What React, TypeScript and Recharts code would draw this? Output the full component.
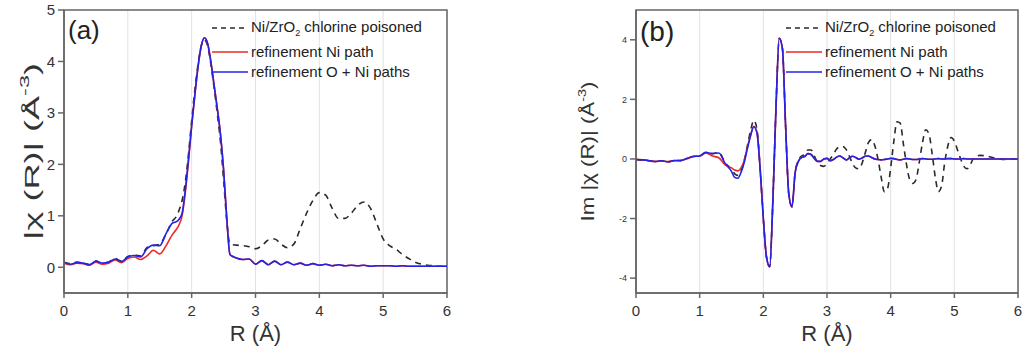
import React from 'react';
import {
  LineChart,
  Line,
  XAxis,
  YAxis,
  CartesianGrid,
  ReferenceArea,
  Legend,
  Label,
} from 'recharts';

const FONT = '"Liberation Sans", Arial, sans-serif';
const AXIS = '#666';
const TEXT = '#333';
const RED = '#ee2a24';
const BLUE = '#2323e6';
const DASH = '#2a2a2a';

// ---- panel (a): magnitude |chi(R)| ----
const rA = [
  0, 0.1, 0.2, 0.3, 0.4, 0.5, 0.6, 0.7, 0.8, 0.9, 1.0, 1.1, 1.2, 1.3, 1.4, 1.5, 1.6, 1.7,
  1.75, 1.8, 1.85, 1.9, 1.95, 2.0, 2.05, 2.1, 2.15, 2.2, 2.25, 2.3, 2.35, 2.4, 2.45, 2.5, 2.55, 2.6,
  2.7, 2.8, 2.9, 3.0, 3.1, 3.2, 3.3, 3.4, 3.5, 3.6, 3.7, 3.8, 3.9, 4.0, 4.1, 4.2, 4.3, 4.4, 4.5,
  4.6, 4.7, 4.8, 4.9, 5.0, 5.1, 5.2, 5.3, 5.4, 5.5, 5.6, 5.7, 5.8, 5.9, 6.0,
];
const poisonedA = [
  0.10, 0.07, 0.10, 0.08, 0.05, 0.12, 0.08, 0.10, 0.17, 0.12, 0.21, 0.24, 0.22, 0.38, 0.42, 0.45, 0.65, 0.90,
  0.97, 1.10, 1.30, 1.65, 2.20, 2.85, 3.45, 3.95, 4.30, 4.42, 4.30, 3.95, 3.50, 3.00, 2.45, 1.70, 0.90, 0.45,
  0.43, 0.42, 0.40, 0.36, 0.42, 0.53, 0.55, 0.45, 0.38, 0.45, 0.75, 1.05, 1.30, 1.45, 1.40, 1.15, 0.95, 0.95, 1.05,
  1.20, 1.27, 1.15, 0.85, 0.55, 0.42, 0.35, 0.25, 0.17, 0.10, 0.06, 0.04, 0.03, 0.02, 0.02,
];
const niPathA = [
  0.08, 0.05, 0.08, 0.07, 0.04, 0.10, 0.06, 0.08, 0.14, 0.09, 0.17, 0.20, 0.15, 0.22, 0.33, 0.26, 0.42, 0.64,
  0.72, 0.82, 1.00, 1.45, 2.05, 2.75, 3.35, 3.90, 4.30, 4.46, 4.35, 4.00, 3.55, 3.10, 2.60, 1.90, 0.95, 0.25,
  0.18, 0.15, 0.16, 0.06, 0.13, 0.05, 0.12, 0.05, 0.10, 0.05, 0.08, 0.04, 0.07, 0.04, 0.06, 0.03, 0.05, 0.03, 0.04,
  0.03, 0.04, 0.02, 0.03, 0.03, 0.03, 0.02, 0.03, 0.02, 0.02, 0.02, 0.02, 0.02, 0.02, 0.02,
];
const oNiPathsA = [
  0.10, 0.06, 0.09, 0.08, 0.05, 0.12, 0.08, 0.10, 0.16, 0.11, 0.20, 0.23, 0.20, 0.36, 0.43, 0.42, 0.66, 0.86,
  0.88, 0.93, 1.05, 1.50, 2.10, 2.75, 3.35, 3.90, 4.30, 4.46, 4.35, 4.00, 3.55, 3.10, 2.60, 1.90, 0.95, 0.25,
  0.18, 0.15, 0.16, 0.06, 0.13, 0.05, 0.12, 0.05, 0.10, 0.05, 0.08, 0.04, 0.07, 0.04, 0.06, 0.03, 0.05, 0.03, 0.04,
  0.03, 0.04, 0.02, 0.03, 0.03, 0.03, 0.02, 0.03, 0.02, 0.02, 0.02, 0.02, 0.02, 0.02, 0.02,
];

// ---- panel (b): imaginary part ----
const rB = [
  0, 0.1, 0.2, 0.3, 0.4, 0.5, 0.6, 0.7, 0.8, 0.9, 1.0, 1.1, 1.2, 1.3, 1.4,
  1.5, 1.55, 1.6, 1.65, 1.7, 1.75, 1.8, 1.85, 1.9, 1.95, 2.0, 2.05, 2.1, 2.15, 2.2, 2.25, 2.3, 2.35,
  2.4, 2.45, 2.5, 2.55, 2.6,
  2.65, 2.7, 2.75, 2.8, 2.85, 2.9, 2.95, 3.0,
  3.05, 3.1, 3.15, 3.2, 3.25, 3.3, 3.35, 3.4, 3.45, 3.5, 3.55, 3.6, 3.65, 3.7, 3.75, 3.8, 3.85, 3.9, 3.95, 4.0,
  4.05, 4.1, 4.15, 4.2, 4.25, 4.3, 4.35, 4.4, 4.45, 4.5, 4.55, 4.6, 4.65, 4.7, 4.75, 4.8, 4.85, 4.9, 4.95, 5.0,
  5.05, 5.1, 5.15, 5.2, 5.25, 5.3,
  5.4, 5.5, 5.6, 5.7, 5.8, 5.9, 6.0,
];
const poisonedB = [
  -0.02, -0.04, -0.06, -0.09, -0.06, -0.10, -0.05, -0.06, 0.02, 0.08, 0.10, 0.22, 0.18, 0.22, -0.12,
  -0.35, -0.50, -0.55, -0.40, -0.05, 0.45, 0.95, 1.30, 1.00, -0.30, -2.00, -3.30, -3.62, -1.40, 1.80, 4.05, 3.70, 1.10,
  -1.18, -1.60, -0.45, -0.05, 0.10,
  0.15, 0.30, 0.30, 0.10, -0.10, -0.22, -0.25, -0.15,
  0.00, 0.15, 0.33, 0.42, 0.42, 0.32, 0.10, -0.15, -0.30, -0.33, -0.15, 0.20, 0.55, 0.65, 0.45, 0.00, -0.60, -1.10, -1.00, -0.30,
  0.60, 1.25, 1.20, 0.50, -0.20, -0.70, -0.82, -0.68, -0.10, 0.55, 0.98, 0.85, 0.20, -0.60, -1.10, -0.90, -0.10, 0.45, 0.72, 0.60,
  0.30, 0.00, -0.25, -0.33, -0.20, 0.02,
  0.12, 0.10, 0.05, 0.00, -0.02, 0.00, 0.00,
];
const niPathB = [
  -0.01, -0.03, -0.06, -0.08, -0.07, -0.09, -0.06, -0.04, 0.00, 0.09, 0.10, 0.20, 0.10, 0.04, -0.20,
  -0.30, -0.37, -0.40, -0.30, -0.05, 0.40, 0.80, 1.10, 0.88, -0.34, -2.00, -3.30, -3.62, -1.40, 1.80, 4.05, 3.70, 1.10,
  -1.18, -1.62, -0.45, -0.08, 0.05,
  0.08, 0.18, 0.15, 0.02, -0.08, -0.08, 0.00, 0.02,
  -0.06, -0.02, 0.06, 0.10, 0.04, -0.03, 0.03, 0.09, 0.05, -0.01, 0.03, 0.09, 0.10, 0.05, 0.00, -0.02, -0.03, -0.02, 0.00, 0.02,
  0.01, -0.02, -0.03, -0.01, 0.01, 0.00, -0.02, -0.02, 0.00, 0.01, 0.00, -0.01, -0.01, 0.00, 0.01, 0.00, 0.00, 0.01, 0.01, 0.00,
  0.00, 0.00, 0.01, 0.00, 0.00, 0.00,
  0.00, 0.00, 0.00, 0.00, 0.00, 0.00, 0.00,
];
const oNiPathsB = [
  -0.02, -0.03, -0.05, -0.09, -0.06, -0.10, -0.05, -0.06, 0.02, 0.08, 0.10, 0.22, 0.18, 0.20, -0.15,
  -0.42, -0.62, -0.65, -0.45, -0.12, 0.35, 0.78, 1.08, 0.88, -0.34, -2.00, -3.30, -3.62, -1.40, 1.80, 4.05, 3.70, 1.10,
  -1.18, -1.60, -0.45, -0.08, 0.05,
  0.08, 0.18, 0.15, 0.02, -0.08, -0.08, 0.00, 0.02,
  -0.06, -0.02, 0.06, 0.10, 0.04, -0.03, 0.03, 0.09, 0.05, -0.01, 0.03, 0.09, 0.10, 0.05, 0.00, -0.02, -0.03, -0.02, 0.00, 0.02,
  0.01, -0.02, -0.03, -0.01, 0.01, 0.00, -0.02, -0.02, 0.00, 0.01, 0.00, -0.01, -0.01, 0.00, 0.01, 0.00, 0.00, 0.01, 0.01, 0.00,
  0.00, 0.00, 0.01, 0.00, 0.00, 0.00,
  0.00, 0.00, 0.00, 0.00, 0.00, 0.00, 0.00,
];

const xTicks = [0, 1, 2, 3, 4, 5, 6];
const yTicksA = [0, 1, 2, 3, 4, 5];
const yTicksB = [-4, -2, 0, 2, 4];

const dataA = rA.map((r, i) => ({ r, poisoned: poisonedA[i], ni: niPathA[i], oni: oNiPathsA[i] }));
const dataB = rB.map((r, i) => ({ r, poisoned: poisonedB[i], ni: niPathB[i], oni: oNiPathsB[i] }));

const LegendRow = ({ color, dash, children, height }: any) => (
  <div style={{ display: 'flex', alignItems: 'center', height }}>
    <svg width={36} height={4} style={{ marginRight: 3 }}>
      <line x1={0} y1={2} x2={36} y2={2} stroke={color} strokeWidth={1.6} strokeDasharray={dash} />
    </svg>
    <span>{children}</span>
  </div>
);

const SampleLegend = () => (
  <div style={{ fontFamily: FONT, fontSize: 15, color: '#222', lineHeight: 1, whiteSpace: 'nowrap' }}>
    <LegendRow color={DASH} dash="5 4" height={26}>
      Ni/ZrO<sub style={{ fontSize: 9 }}>2</sub> chlorine poisoned
    </LegendRow>
    <LegendRow color={RED} height={21}>refinement Ni path</LegendRow>
    <LegendRow color={BLUE} height={19}>refinement O + Ni paths</LegendRow>
  </div>
);

// rotated axis title, stretched along its length to a fixed span
const YTitle = ({ x, y, size, span, prefix }: any) => (
  <text
    x={x}
    y={y}
    transform={`rotate(-90 ${x} ${y})`}
    textAnchor="middle"
    dominantBaseline="central"
    fontFamily={FONT}
    fontSize={size}
    textLength={span}
    lengthAdjust="spacingAndGlyphs"
    fill={TEXT}
  >
    {prefix}|χ (R)| (Å
    <tspan dy={-size * 0.4} fontSize={size * 0.65}>-3</tspan>
    <tspan dy={size * 0.4}>)</tspan>
  </text>
);

const Panel = ({ data, width, yAxisWidth, rightMargin, yDomain, yTicks, yTickSize, panel, title }: any) => (
  <LineChart
    width={width}
    height={351}
    data={data}
    margin={{ top: 10, right: rightMargin, bottom: 0, left: 0 }}
    style={{ fontFamily: FONT }}
  >
    <CartesianGrid horizontal={false} stroke="#e2e2e2" />
    <XAxis
      dataKey="r"
      type="number"
      domain={[0, 6]}
      ticks={xTicks}
      height={58}
      stroke={AXIS}
      strokeWidth={1.5}
      tickSize={5}
      tickMargin={7}
      tick={{ fill: TEXT, fontSize: 15 }}
    >
      <Label value="R (Å)" position="insideBottom" offset={10} fill={TEXT} fontSize={22} />
    </XAxis>
    <YAxis
      type="number"
      domain={yDomain}
      ticks={yTicks}
      width={yAxisWidth}
      stroke={AXIS}
      strokeWidth={1.5}
      tickSize={6}
      tickMargin={3}
      tick={{ fill: TEXT, fontSize: yTickSize }}
      label={title}
    />
    <ReferenceArea
      x1={0}
      x2={6}
      y1={yDomain[0]}
      y2={yDomain[1]}
      fill="none"
      stroke={AXIS}
      strokeWidth={1.5}
      label={{ value: panel.text, position: 'insideTopLeft', offset: 4, dy: 7, fontSize: panel.size, fill: '#222' }}
    />
    <Legend
      layout="horizontal"
      verticalAlign="middle"
      align="center"
      content={<SampleLegend />}
      wrapperStyle={{ top: 15, left: panel.legendLeft, width: 'auto', height: 'auto' }}
    />
    <Line type="monotone" dataKey="poisoned" stroke={DASH} strokeWidth={1.6} strokeDasharray="6 5" dot={false} isAnimationActive={false} />
    <Line type="monotone" dataKey="ni" stroke={RED} strokeWidth={1.6} dot={false} isAnimationActive={false} />
    <Line type="monotone" dataKey="oni" stroke={BLUE} strokeWidth={1.6} dot={false} isAnimationActive={false} />
  </LineChart>
);

export default function App() {
  return (
    <div style={{ position: 'absolute', left: 0, top: 0, width: 1024, height: 351, background: '#fff' }}>
      <div style={{ position: 'absolute', left: 0, top: 0 }}>
        <Panel
          data={dataA}
          width={470}
          yAxisWidth={64}
          rightMargin={23}
          yDomain={[-0.5, 5]}
          yTicks={yTicksA}
          yTickSize={15}
          panel={{ text: '(a)', size: 26, legendLeft: 212 }}
          title={<YTitle x={23} y={151} size={20} span={177} prefix="" />}
        />
      </div>
      <div style={{ position: 'absolute', left: 540, top: 0 }}>
        <Panel
          data={dataB}
          width={484}
          yAxisWidth={96}
          rightMargin={6}
          yDomain={[-4.5, 5]}
          yTicks={yTicksB}
          yTickSize={9}
          panel={{ text: '(b)', size: 28, legendLeft: 246 }}
          title={<YTitle x={54} y={150} size={18} span={140} prefix="Im " />}
        />
      </div>
    </div>
  );
}
